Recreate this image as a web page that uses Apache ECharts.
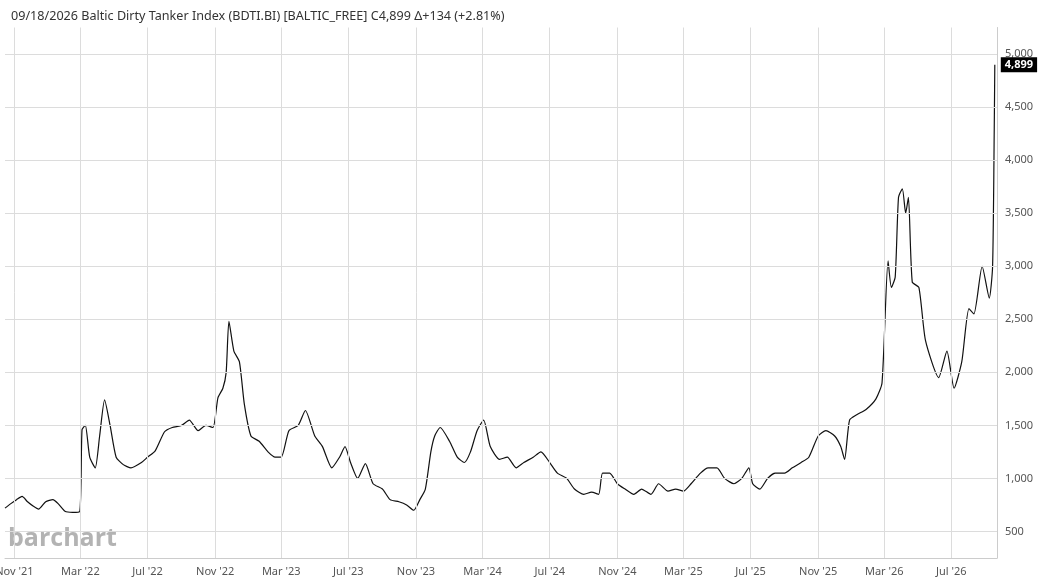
<!DOCTYPE html>
<html><head><meta charset="utf-8">
<script src="https://cdn.jsdelivr.net/npm/echarts@6/dist/echarts.min.js"></script>
<style>html,body{margin:0;padding:0;background:#fff}#c{width:1043px;height:580px}</style>
</head><body><div id="c"></div>
<script>
const dates = ['2021-10-15','2021-10-25','2021-11-05','2021-11-15','2021-11-25','2021-12-05','2021-12-15','2021-12-28','2022-01-10','2022-01-20','2022-02-01','2022-02-15','2022-02-28','2022-03-04','2022-03-10','2022-03-18','2022-03-28','2022-04-05','2022-04-14','2022-04-24','2022-05-05','2022-05-18','2022-06-01','2022-06-20','2022-07-01','2022-07-15','2022-08-01','2022-08-15','2022-09-01','2022-09-15','2022-10-01','2022-10-15','2022-10-28','2022-11-06','2022-11-15','2022-11-21','2022-11-26','2022-12-05','2022-12-15','2022-12-24','2023-01-05','2023-01-20','2023-02-05','2023-02-18','2023-03-01','2023-03-15','2023-04-01','2023-04-14','2023-05-01','2023-05-15','2023-06-01','2023-06-15','2023-06-25','2023-07-05','2023-07-18','2023-08-01','2023-08-15','2023-09-01','2023-09-15','2023-10-01','2023-10-15','2023-10-28','2023-11-08','2023-11-18','2023-11-28','2023-12-05','2023-12-15','2024-01-01','2024-01-15','2024-01-28','2024-02-08','2024-02-20','2024-03-03','2024-03-15','2024-04-01','2024-04-15','2024-05-01','2024-05-15','2024-06-01','2024-06-15','2024-07-01','2024-07-15','2024-08-01','2024-08-15','2024-09-01','2024-09-15','2024-09-28','2024-10-05','2024-10-18','2024-11-01','2024-11-15','2024-12-01','2024-12-15','2025-01-01','2025-01-15','2025-02-01','2025-02-15','2025-03-01','2025-03-15','2025-04-01','2025-04-15','2025-05-01','2025-05-15','2025-06-01','2025-06-15','2025-06-28','2025-07-05','2025-07-18','2025-08-01','2025-08-15','2025-09-01','2025-09-15','2025-10-01','2025-10-15','2025-11-01','2025-11-15','2025-12-01','2025-12-12','2025-12-19','2025-12-28','2026-01-10','2026-01-27','2026-02-14','2026-02-25','2026-03-08','2026-03-14','2026-03-21','2026-03-27','2026-04-03','2026-04-09','2026-04-14','2026-04-21','2026-05-03','2026-05-15','2026-06-08','2026-06-23','2026-07-06','2026-07-20','2026-08-02','2026-08-11','2026-08-26','2026-09-08','2026-09-14','2026-09-17','2026-09-18'];
const values = [720,760,800,830,780,740,710,780,800,760,690,680,690,1460,1500,1200,1100,1400,1740,1500,1200,1130,1100,1150,1200,1260,1440,1480,1500,1550,1450,1500,1480,1760,1850,2000,2480,2200,2100,1700,1400,1350,1250,1200,1200,1450,1500,1640,1400,1300,1100,1200,1300,1150,1000,1140,950,900,800,780,750,700,800,900,1250,1400,1480,1350,1200,1150,1250,1450,1550,1300,1180,1200,1100,1150,1200,1250,1150,1050,1000,900,850,870,850,1050,1050,950,900,850,900,850,950,880,900,880,950,1050,1100,1100,1000,950,1000,1100,950,900,1000,1050,1050,1100,1150,1200,1400,1450,1400,1300,1180,1550,1600,1650,1750,1900,3050,2800,2900,3650,3730,3500,3650,2850,2800,2300,1950,2200,1850,2100,2600,2550,3000,2700,3000,4300,4899];
const yTicks = [500,1000,1500,2000,2500,3000,3500,4000,4500,5000];
const xTickDates = ['2021-11-01','2022-03-01','2022-07-01','2022-11-01','2023-03-01','2023-07-01','2023-11-01','2024-03-01','2024-07-01','2024-11-01','2025-03-01','2025-07-01','2025-11-01','2026-03-01','2026-07-01'];
const title = "09/18/2026 Baltic Dirty Tanker Index (BDTI.BI) [BALTIC_FREE] C4,899 \u0394+134 (+2.81%)";
const months=['Jan','Feb','Mar','Apr','May','Jun','Jul','Aug','Sep','Oct','Nov','Dec'];
const ts=d=>Date.UTC(+d.slice(0,4),+d.slice(5,7)-1,+d.slice(8,10));
const font='"Noto Sans", "Open Sans", sans-serif';
const chart = echarts.init(document.getElementById('c'));
chart.setOption({
  animation:false,
  title:{text:title,left:6,top:5,textStyle:{fontSize:12.6,fontWeight:'normal',color:'#333',fontFamily:font}},
  graphic:[{type:'text',left:8,top:526,style:{text:'barchart',fontSize:25,fontWeight:'bold',fill:'#b3b3b3',fontFamily:'"Open Sans", sans-serif'}}],
  grid:{left:5,right:46,top:27.5,bottom:22,outerBoundsMode:'none',containLabel:false},
  xAxis:{type:'value',min:ts('2021-10-15'),max:ts('2026-09-22'),
    axisLine:{show:true,lineStyle:{color:'#ccc'}},axisTick:{show:false},splitLine:{show:false},
    axisLabel:{customValues:xTickDates.map(ts),color:'#555',fontSize:11,fontFamily:font,
      formatter:v=>{const d=new Date(v);return months[d.getUTCMonth()]+" '"+String(d.getUTCFullYear()).slice(2);}}},
  yAxis:{type:'value',position:'right',min:250,max:5250,interval:250,
    axisLine:{show:true,lineStyle:{color:'#ccc'}},axisTick:{show:false},splitLine:{show:false},
    axisLabel:{color:'#555',fontSize:11,fontFamily:font,margin:8,
      formatter:v=>(v%500===0&&v<=5000)?v.toLocaleString('en-US'):''}},
  series:[{type:'line',data:dates.map((d,i)=>[ts(d),values[i]]),symbol:'none',smooth:0.2,
    lineStyle:{color:'#111',width:1.2},
    endLabel:{show:true,formatter:p=>p.value[1].toLocaleString('en-US'),backgroundColor:'#000',color:'#fff',
      fontSize:11,fontWeight:'bold',fontFamily:font,padding:[2,4],distance:6},
    markLine:{silent:true,symbol:'none',label:{show:false},lineStyle:{color:'#dcdcdc',type:'solid',width:1},
      data:[...yTicks.map(v=>({yAxis:v})),...xTickDates.map(d=>({xAxis:ts(d)}))]}}]
});
</script></body></html>
